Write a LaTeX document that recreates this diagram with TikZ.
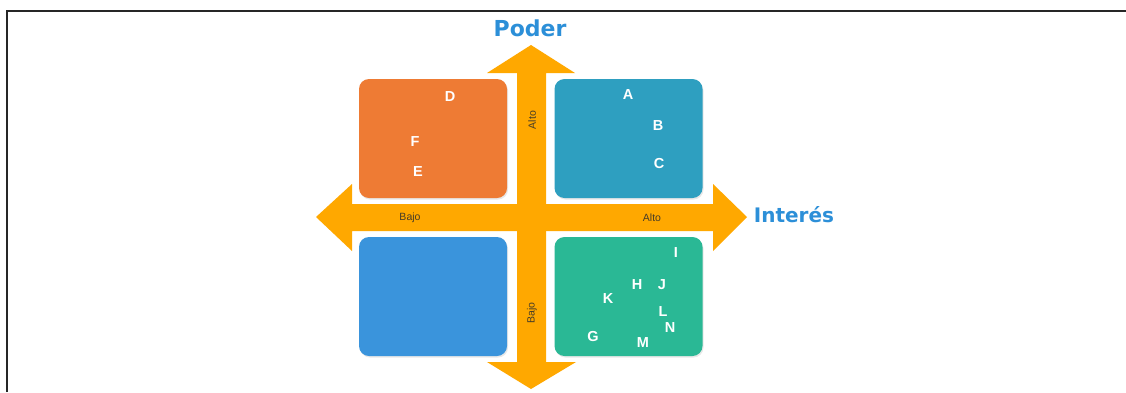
\documentclass[tikz,border=0pt]{standalone}
\usepackage{fontspec}
\setmainfont{Liberation Sans}
\newfontfamily\headfont{DejaVu Sans}
\usetikzlibrary{shadows}
\definecolor{arrowc}{RGB}{255,168,0}
\definecolor{orangebox}{RGB}{238,123,52}
\definecolor{tealbox}{RGB}{46,159,192}
\definecolor{bluebox}{RGB}{58,148,220}
\definecolor{greenbox}{RGB}{42,184,149}
\definecolor{headc}{RGB}{44,143,216}
\definecolor{axisc}{RGB}{70,60,40}
\tikzset{
  quad/.style={rounded corners=10pt, minimum width=148pt, minimum height=119pt, inner sep=0pt,
    drop shadow={opacity=0.18, shadow xshift=1pt, shadow yshift=-1.5pt}},
  letter/.style={text=white, font=\fontsize{14.5}{14.5}\selectfont\bfseries, inner sep=0pt},
  axislab/.style={text=axisc, font=\fontsize{10.5}{10.5}\selectfont, inner sep=0pt},
  headlab/.style={text=headc, font=\headfont\bfseries, inner sep=0pt},
  arrowshape/.style={fill=arrowc, draw=none}
}
\begin{document}
\begin{tikzpicture}[x=1pt, y=-1pt]
\useasboundingbox (0,0) rectangle (1126,392);
\fill[white] (0,0) rectangle (1126,392);
% frame
\draw[line width=2pt, black!85] (7,392) -- (7,11) -- (1127,11);
% arrows
\fill[arrowshape] (531,45) -- (575,73) -- (546,73) -- (546,362) -- (576,362) -- (531,389)
  -- (487,362) -- (517,362) -- (517,73) -- (487,73) -- cycle;
\fill[arrowshape] (316,217) -- (352,184) -- (352,204) -- (713,204) -- (713,184) -- (747,217)
  -- (713,251) -- (713,231) -- (352,231) -- (352,251) -- cycle;
% boxes
\node[quad, fill=orangebox] (q1) at (433,138.5) {};
\node[quad, fill=tealbox] (q2) at (628.5,138.5) {};
\node[quad, fill=bluebox] (q3) at (433,296.5) {};
\node[quad, fill=greenbox] (q4) at (628.5,296.5) {};
% headings
\node[headlab, font=\headfont\bfseries\fontsize{22}{22}\selectfont] (poder) at (530,28) {Poder};
\node[headlab, font=\headfont\bfseries\fontsize{20}{20}\selectfont] (interes) at (794,215) {Interés};
% axis labels
\node[axislab, rotate=90] (altoV) at (532,120) {Alto};
\node[axislab, rotate=90] (bajoV) at (532,313) {Bajo};
\node[axislab] (bajoH) at (410,218) {Bajo};
\node[axislab] (altoH) at (652,218) {Alto};
% letters
\node[letter] (D) at (450,97) {D};
\node[letter] (F) at (415,142) {F};
\node[letter] (E) at (418,172) {E};
\node[letter] (A) at (628,95) {A};
\node[letter] (B) at (658,126) {B};
\node[letter] (C) at (659,164) {C};
\node[letter] (I) at (676,253) {I};
\node[letter] (H) at (637,285) {H};
\node[letter] (J) at (662,285) {J};
\node[letter] (K) at (608,299) {K};
\node[letter] (L) at (663,312) {L};
\node[letter] (N) at (670,328) {N};
\node[letter] (G) at (593,336) {G};
\node[letter] (M) at (643,343) {M};
\end{tikzpicture}
\end{document}
